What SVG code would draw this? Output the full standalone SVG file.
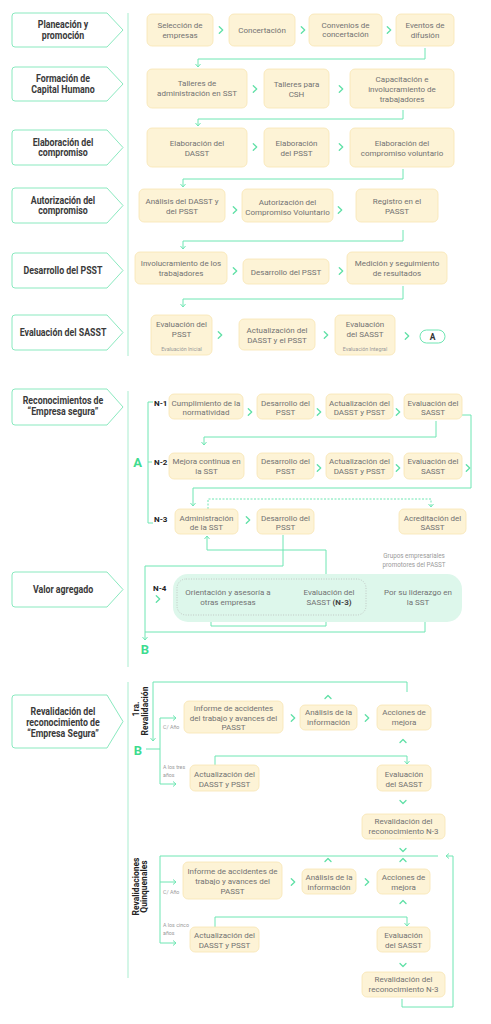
<svg xmlns="http://www.w3.org/2000/svg" width="491" height="1024" viewBox="0 0 491 1024">
<defs>
<style>
.lb{fill:#fff;stroke:#8ae9bf;stroke-width:1}
.lt{font-family:Roboto,"Liberation Sans",sans-serif;font-weight:700;font-size:11px;fill:#3a3a3a;text-anchor:middle}
.bx{fill:#fdf3d6;stroke:#f8e5b2;stroke-width:0.8}
.bt{font-family:Roboto,"Liberation Sans",sans-serif;font-size:8px;fill:#727272;text-anchor:middle}
.sm{font-family:Roboto,"Liberation Sans",sans-serif;font-size:5.3px;fill:#9a9a9a}
.smc{font-family:Roboto,"Liberation Sans",sans-serif;font-size:5.3px;fill:#9a9a9a;text-anchor:middle}
.gp{font-family:Roboto,"Liberation Sans",sans-serif;font-size:6.3px;fill:#9a9a9a;text-anchor:middle}
.ch{fill:none;stroke:#5fe0a6;stroke-width:1.3;stroke-linecap:round;stroke-linejoin:round}
.cn{fill:none;stroke:#6fe6b3;stroke-width:1}
.dv{fill:none;stroke:#c6f4df;stroke-width:1.5}
.nl{font-family:Roboto,"Liberation Sans",sans-serif;font-weight:700;font-size:8px;fill:#222}
.ab{font-family:Roboto,"Liberation Sans",sans-serif;font-weight:700;font-size:13px;fill:#3fdc90;text-anchor:middle}
.rt{font-family:Roboto,"Liberation Sans",sans-serif;font-weight:700;font-size:8.5px;fill:#222;text-anchor:middle}
</style>
<marker id="ah" viewBox="0 0 6 6" refX="4.5" refY="3" markerWidth="6" markerHeight="6" markerUnits="userSpaceOnUse" orient="auto"><path d="M1.5,0.5 L4.5,3 L1.5,5.5" fill="none" stroke="#6fe6b3" stroke-width="1"/></marker>
</defs>
<rect width="491" height="1024" fill="#fff"/>

<g id="dividers">
<path class="dv" d="M128,13 V356 M128,391 V667 M128,682 V978"/>
</g>

<g id="labels">
<g id="lab-planeacion"><path class="lb" d="M15,13 H107 L123,30 L107,47 H15 Q12,47 12,44 V16 Q12,13 15,13 Z"/><text class="lt" transform="matrix(0.8 0 0 1 12.6 0)"><tspan x="63" y="28.5">Planeación y</tspan><tspan x="63" y="39">promoción</tspan></text></g>
<g id="lab-formacion"><path class="lb" d="M15,67 H107 L123,84 L107,101 H15 Q12,101 12,98 V70 Q12,67 15,67 Z"/><text class="lt" transform="matrix(0.8 0 0 1 12.6 0)"><tspan x="63" y="82.5">Formación de</tspan><tspan x="63" y="93">Capital Humano</tspan></text></g>
<g id="lab-elaboracion"><path class="lb" d="M15,130 H107 L123,147.5 L107,165 H15 Q12,165 12,162 V133 Q12,130 15,130 Z"/><text class="lt" transform="matrix(0.8 0 0 1 12.6 0)"><tspan x="63" y="146">Elaboración del</tspan><tspan x="63" y="156.5">compromiso</tspan></text></g>
<g id="lab-autorizacion"><path class="lb" d="M15,188 H107 L123,205.5 L107,223 H15 Q12,223 12,220 V191 Q12,188 15,188 Z"/><text class="lt" transform="matrix(0.8 0 0 1 12.6 0)"><tspan x="63" y="204">Autorización del</tspan><tspan x="63" y="214.5">compromiso</tspan></text></g>
<g id="lab-desarrollo"><path class="lb" d="M15,253 H107 L123,270.5 L107,288 H15 Q12,288 12,285 V256 Q12,253 15,253 Z"/><text class="lt" transform="matrix(0.8 0 0 1 12.6 0)" x="63" y="274.5">Desarrollo del PSST</text></g>
<g id="lab-evaluacion"><path class="lb" d="M15,315 H107 L123,332.5 L107,350 H15 Q12,350 12,347 V318 Q12,315 15,315 Z"/><text class="lt" transform="matrix(0.8 0 0 1 12.6 0)" x="63" y="336.5">Evaluación del SASST</text></g>
<g id="lab-reconocimientos"><path class="lb" d="M15,389 H107 L123,407 L107,425 H15 Q12,425 12,422 V392 Q12,389 15,389 Z"/><text class="lt" transform="matrix(0.8 0 0 1 12.6 0)"><tspan x="63" y="404.5">Reconocimientos de</tspan><tspan x="63" y="415.5">“Empresa segura”</tspan></text></g>
<g id="lab-valor"><path class="lb" d="M15,572 H107 L123,589.5 L107,607 H15 Q12,607 12,604 V575 Q12,572 15,572 Z"/><text class="lt" transform="matrix(0.8 0 0 1 12.6 0)" x="63" y="593.5">Valor agregado</text></g>
<g id="lab-revalidacion"><path class="lb" d="M15,695 H107 L123,721.5 L107,748 H15 Q12,748 12,745 V698 Q12,695 15,695 Z"/><text class="lt" transform="matrix(0.8 0 0 1 12.6 0)"><tspan x="63" y="715">Revalidación del</tspan><tspan x="63" y="726">reconocimiento de</tspan><tspan x="63" y="737">“Empresa Segura”</tspan></text></g>
</g>

<g id="connectors">
<path class="cn" marker-end="url(#ah)" d="M425,48 V59 H198 V67"/>
<path class="cn" marker-end="url(#ah)" d="M403,110 V119 H198 V126"/>
<path class="cn" marker-end="url(#ah)" d="M403,169 V179 H183 V187"/>
<path class="cn" marker-end="url(#ah)" d="M403,230 V241 H183 V249"/>
<path class="cn" marker-end="url(#ah)" d="M403,286 V299 H183 V307"/>
<path class="cn" stroke="#a6efcd" d="M153,402 H148 V523 H153 M148,462 H152"/>
<path class="cn" marker-end="url(#ah)" d="M436,421 V437 H204 V445"/>
<path class="cn" marker-end="url(#ah)" d="M462,415 H471 V488 H193 V506"/>
<path class="cn" stroke-dasharray="2,1.5" marker-end="url(#ah)" d="M208,509 V499 H431 V507"/>
<path class="cn" marker-end="url(#ah)" d="M283,535 V566 H145 V640"/>
<path class="cn" d="M425,622 V632 H145"/>
<path class="cn" marker-end="url(#ah)" d="M326,575 V550 H207 V536"/>
<path class="cn" marker-end="url(#ah)" d="M326,615 V626 H211 V616"/>
<path class="cn" marker-end="url(#ah)" d="M407,692 V682 H153 V741"/>
<path class="cn" d="M146,749 H160"/>
<path class="cn" marker-end="url(#ah)" d="M160,749 V718 H176"/>
<path class="cn" marker-end="url(#ah)" d="M160,749 V784 H176"/>
<path class="cn" marker-end="url(#ah)" d="M215,765 V756 H407 V764"/>
<path class="cn" marker-end="url(#ah)" d="M402,999 V1007 H453 V856 H446"/>
<path class="cn" d="M438,856 H160 V943"/>
<path class="cn" marker-end="url(#ah)" d="M160,882 H176"/>
<path class="cn" marker-end="url(#ah)" d="M160,943 H176"/>
<path class="cn" marker-end="url(#ah)" d="M215,927 V917 H407 V926"/>
<path class="ch" d="M219.3,26.7 L222.7,30 L219.3,33.3 M301.3,26.7 L304.7,30 L301.3,33.3 M387.3,26.7 L390.7,30 L387.3,33.3 M253.3,85.7 L256.7,89 L253.3,92.3 M339.3,85.7 L342.7,89 L339.3,92.3 M253.3,143.7 L256.7,147 L253.3,150.3 M339.3,143.7 L342.7,147 L339.3,150.3 M233.3,206.7 L236.7,210 L233.3,213.3 M338.3,206.7 L341.7,210 L338.3,213.3 M233.3,267.7 L236.7,271 L233.3,274.3 M339.3,267.7 L342.7,271 L339.3,274.3 M218.3,331.7 L221.7,335 L218.3,338.3 M324.3,331.7 L327.7,335 L324.3,338.3 M405.3,332.7 L408.7,336 L405.3,339.3"/>
<path class="ch" d="M248.3,408.7 L251.7,412 L248.3,415.3 M317.3,408.7 L320.7,412 L317.3,415.3 M396.3,408.7 L399.7,412 L396.3,415.3 M317.3,464.7 L320.7,468 L317.3,471.3 M396.3,464.7 L399.7,468 L396.3,471.3 M466.3,464.7 L469.7,468 L466.3,471.3 M246.3,516.7 L249.7,520 L246.3,523.3 M284.3,595.7 L287.7,599 L284.3,602.3 M372.3,595.7 L375.7,599 L372.3,602.3 M156.3,595.7 L159.7,599 L156.3,602.3"/>
<path class="ch" d="M291.3,714.7 L294.7,718 L291.3,721.3 M365.3,714.7 L368.7,718 L365.3,721.3 M291.3,878.7 L294.7,882 L291.3,885.3 M365.3,878.7 L368.7,882 L365.3,885.3"/>
<path class="ch" d="M325,698.5 L328,695.5 L331,698.5 M400,742.5 L403,739.5 L406,742.5 M325,861.5 L328,858.5 L331,861.5 M400,861.5 L403,858.5 L406,861.5 M400,903.5 L403,900.5 L406,903.5"/>
<path class="ch" d="M400,800.5 L403,803.5 L406,800.5 M400,848.5 L403,851.5 L406,848.5 M400,963.5 L403,966.5 L406,963.5"/>
</g>

<g id="s1-row1">
<g id="n-seleccion"><rect class="bx" x="147" y="14" width="66" height="32" rx="5"/><text class="bt"><tspan x="180" y="28">Selección de</tspan><tspan x="180" y="38">empresas</tspan></text></g>
<g id="n-concertacion"><rect class="bx" x="229" y="14" width="66" height="32" rx="5"/><text class="bt" x="262" y="33">Concertación</text></g>
<g id="n-convenios"><rect class="bx" x="309" y="14" width="73" height="32" rx="5"/><text class="bt"><tspan x="345.5" y="27.5">Convenios de</tspan><tspan x="345.5" y="37">concertación</tspan></text></g>
<g id="n-eventos"><rect class="bx" x="396" y="14" width="58" height="32" rx="5"/><text class="bt"><tspan x="425" y="28">Eventos de</tspan><tspan x="425" y="38">difusión</tspan></text></g>
</g>
<g id="s1-row2">
<g id="n-talleres-adm"><rect class="bx" x="147" y="69" width="100" height="39" rx="5"/><text class="bt"><tspan x="197" y="86">Talleres de</tspan><tspan x="197" y="95.5">administración en SST</tspan></text></g>
<g id="n-talleres-csh"><rect class="bx" x="264" y="69" width="65" height="39" rx="5"/><text class="bt"><tspan x="296.5" y="87">Talleres para</tspan><tspan x="296.5" y="97">CSH</tspan></text></g>
<g id="n-capacitacion"><rect class="bx" x="350" y="69" width="104" height="39" rx="5"/><text class="bt"><tspan x="402" y="82">Capacitación e</tspan><tspan x="402" y="92">involucramiento de</tspan><tspan x="402" y="101.5">trabajadores</tspan></text></g>
</g>
<g id="s1-row3">
<g id="n-elab-dasst"><rect class="bx" x="147" y="128" width="100" height="39" rx="5"/><text class="bt"><tspan x="197" y="145.5">Elaboración del</tspan><tspan x="197" y="155.5">DASST</tspan></text></g>
<g id="n-elab-psst"><rect class="bx" x="264" y="128" width="65" height="39" rx="5"/><text class="bt"><tspan x="296.5" y="145.5">Elaboración</tspan><tspan x="296.5" y="155.5">del PSST</tspan></text></g>
<g id="n-elab-comp"><rect class="bx" x="350" y="128" width="104" height="39" rx="5"/><text class="bt"><tspan x="402" y="145.5">Elaboración del</tspan><tspan x="402" y="155.5">compromiso voluntario</tspan></text></g>
</g>
<g id="s1-row4">
<g id="n-analisis"><rect class="bx" x="139" y="189" width="86" height="33" rx="5"/><text class="bt"><tspan x="182" y="204">Análisis del DASST y</tspan><tspan x="182" y="214">del PSST</tspan></text></g>
<g id="n-autorizacion"><rect class="bx" x="242" y="189" width="91" height="33" rx="5"/><text class="bt"><tspan x="287.5" y="205">Autorización del</tspan><tspan x="287.5" y="214.5">Compromiso Voluntario</tspan></text></g>
<g id="n-registro"><rect class="bx" x="356" y="189" width="82" height="33" rx="5"/><text class="bt"><tspan x="397" y="204">Registro en el</tspan><tspan x="397" y="213.5">PASST</tspan></text></g>
</g>
<g id="s1-row5">
<g id="n-involucramiento"><rect class="bx" x="135" y="252" width="92" height="32" rx="5"/><text class="bt"><tspan x="181" y="265.5">Involucramiento de los</tspan><tspan x="181" y="275.5">trabajadores</tspan></text></g>
<g id="n-desarrollo"><rect class="bx" x="243" y="259" width="86" height="25" rx="5"/><text class="bt" x="286" y="274.5">Desarrollo del PSST</text></g>
<g id="n-medicion"><rect class="bx" x="347" y="252" width="100" height="32" rx="5"/><text class="bt"><tspan x="397" y="265.5">Medición y seguimiento</tspan><tspan x="397" y="275.5">de resultados</tspan></text></g>
</g>
<g id="s1-row6">
<g id="n-eval-psst"><rect class="bx" x="151" y="315" width="61" height="40" rx="5"/><text class="bt"><tspan x="181.5" y="327">Evaluación del</tspan><tspan x="181.5" y="337">PSST</tspan></text><text class="smc" x="181.5" y="350.5">Evaluación Inicial</text></g>
<g id="n-actualizacion"><rect class="bx" x="239" y="319" width="76" height="31" rx="5"/><text class="bt"><tspan x="277" y="333">Actualización del</tspan><tspan x="277" y="343">DASST y el PSST</tspan></text></g>
<g id="n-eval-sasst"><rect class="bx" x="335" y="315" width="60" height="40" rx="5"/><text class="bt"><tspan x="365" y="327">Evaluación</tspan><tspan x="365" y="337">del SASST</tspan></text><text class="smc" x="365" y="350.5">Evaluación Integral</text></g>
<g id="n-A"><rect x="420" y="330" width="25" height="13" rx="6.5" fill="#fff" stroke="#6fe6b3" stroke-width="1"/><text x="432.5" y="339.8" font-family="Roboto, sans-serif" font-weight="700" font-size="8.5" fill="#333" text-anchor="middle">A</text></g>
</g>

<g id="s2">
<text class="ab" x="137.5" y="466.5">A</text>
<text class="nl" x="154" y="405.5">N-1</text>
<text class="nl" x="154" y="465">N-2</text>
<text class="nl" x="154" y="522">N-3</text>
<text class="nl" x="153" y="591">N-4</text>
<g id="n1-cumplimiento"><rect class="bx" x="169" y="394" width="74" height="25" rx="5"/><text class="bt"><tspan x="206" y="405.5">Cumplimiento de la</tspan><tspan x="206" y="415">normatividad</tspan></text></g>
<g id="n1-desarrollo"><rect class="bx" x="257" y="394" width="57" height="25" rx="5"/><text class="bt"><tspan x="285.5" y="405.5">Desarrollo del</tspan><tspan x="285.5" y="415">PSST</tspan></text></g>
<g id="n1-actualizacion"><rect class="bx" x="326" y="394" width="67" height="25" rx="5"/><text class="bt"><tspan x="359.5" y="405.5">Actualización del</tspan><tspan x="359.5" y="415">DASST y PSST</tspan></text></g>
<g id="n1-evaluacion"><rect class="bx" x="404" y="394" width="58" height="25" rx="5"/><text class="bt"><tspan x="433" y="405.5">Evaluación del</tspan><tspan x="433" y="415">SASST</tspan></text></g>
<g id="n2-mejora"><rect class="bx" x="169" y="453" width="75" height="26" rx="5"/><text class="bt"><tspan x="206.5" y="464">Mejora continua en</tspan><tspan x="206.5" y="473.5">la SST</tspan></text></g>
<g id="n2-desarrollo"><rect class="bx" x="257" y="453" width="57" height="26" rx="5"/><text class="bt"><tspan x="285.5" y="464">Desarrollo del</tspan><tspan x="285.5" y="473.5">PSST</tspan></text></g>
<g id="n2-actualizacion"><rect class="bx" x="326" y="453" width="67" height="26" rx="5"/><text class="bt"><tspan x="359.5" y="464">Actualización del</tspan><tspan x="359.5" y="473.5">DASST y PSST</tspan></text></g>
<g id="n2-evaluacion"><rect class="bx" x="404" y="453" width="58" height="26" rx="5"/><text class="bt"><tspan x="433" y="464">Evaluación del</tspan><tspan x="433" y="473.5">SASST</tspan></text></g>
<g id="n3-administracion"><rect class="bx" x="175" y="509" width="63" height="25" rx="5"/><text class="bt"><tspan x="206.5" y="520.5">Administración</tspan><tspan x="206.5" y="530">de la SST</tspan></text></g>
<g id="n3-desarrollo"><rect class="bx" x="257" y="509" width="57" height="25" rx="5"/><text class="bt"><tspan x="285.5" y="520.5">Desarrollo del</tspan><tspan x="285.5" y="530">PSST</tspan></text></g>
<g id="n3-acreditacion"><rect class="bx" x="399" y="509" width="67" height="25" rx="5"/><text class="bt"><tspan x="432.5" y="520.5">Acreditación del</tspan><tspan x="432.5" y="530">SASST</tspan></text></g>
<g id="n4-panel">
<rect x="173" y="574" width="289" height="48" rx="15" fill="#ddf7eb"/>
<rect x="177" y="579" width="189" height="36" rx="9" fill="none" stroke="#b5b5b5" stroke-width="0.7" stroke-dasharray="1,1.5"/>
<text class="gp"><tspan x="414" y="558">Grupos empresariales</tspan><tspan x="414" y="566.5">promotores del PASST</tspan></text>
</g>
<g id="n4-orientacion"><text class="bt"><tspan x="228" y="595">Orientación y asesoría a</tspan><tspan x="228" y="605">otras empresas</tspan></text></g>
<g id="n4-evaluacion"><text class="bt"><tspan x="329" y="595">Evaluación del</tspan><tspan x="329" y="605">SASST <tspan font-weight="700" fill="#444">(N-3)</tspan></tspan></text></g>
<g id="n4-liderazgo"><text class="bt"><tspan x="418" y="595">Por su liderazgo en</tspan><tspan x="418" y="605">la SST</tspan></text></g>
<text class="ab" x="145" y="653.5">B</text>
</g>

<g id="s3">
<text class="rt" transform="translate(138.5,709) rotate(-90)">1ra.</text>
<text class="rt" transform="translate(148,711) rotate(-90)">Revalidación</text>
<text class="rt" transform="translate(138.5,886.5) rotate(-90)">Revalidaciones</text>
<text class="rt" transform="translate(147,886.5) rotate(-90)">Quinquenales</text>
<text class="ab" x="138" y="754.5">B</text>
<text class="sm" x="163" y="729">C/ Año</text>
<text class="sm"><tspan x="163" y="769">A los tres</tspan><tspan x="163" y="777">años</tspan></text>
<text class="sm" x="163" y="894">C/ Año</text>
<text class="sm"><tspan x="163" y="927">A los cinco</tspan><tspan x="163" y="935">años</tspan></text>
<g id="r1-informe"><rect class="bx" x="184" y="701" width="99" height="32" rx="5"/><text class="bt"><tspan x="233.5" y="710.5">Informe de accidentes</tspan><tspan x="233.5" y="720.5">del trabajo y avances del</tspan><tspan x="233.5" y="730">PASST</tspan></text></g>
<g id="r1-analisis"><rect class="bx" x="300" y="705" width="57" height="25" rx="5"/><text class="bt"><tspan x="328.5" y="715">Análisis de la</tspan><tspan x="328.5" y="725">información</tspan></text></g>
<g id="r1-acciones"><rect class="bx" x="377" y="705" width="54" height="25" rx="5"/><text class="bt"><tspan x="404" y="715">Acciones de</tspan><tspan x="404" y="725">mejora</tspan></text></g>
<g id="r1-actualizacion"><rect class="bx" x="190" y="765" width="69" height="26" rx="5"/><text class="bt"><tspan x="224.5" y="777">Actualización del</tspan><tspan x="224.5" y="787">DASST y PSST</tspan></text></g>
<g id="r1-evaluacion"><rect class="bx" x="377" y="765" width="54" height="26" rx="5"/><text class="bt"><tspan x="404" y="777">Evaluación</tspan><tspan x="404" y="787">del SASST</tspan></text></g>
<g id="r1-revalidacion"><rect class="bx" x="362" y="814" width="83" height="25" rx="5"/><text class="bt"><tspan x="403.5" y="824">Revalidación del</tspan><tspan x="403.5" y="834">reconocimiento N-3</tspan></text></g>
<g id="q-informe"><rect class="bx" x="183" y="862" width="99" height="37" rx="5"/><text class="bt"><tspan x="232.5" y="874">Informe de accidentes de</tspan><tspan x="232.5" y="884">trabajo y avances del</tspan><tspan x="232.5" y="894">PASST</tspan></text></g>
<g id="q-analisis"><rect class="bx" x="302" y="869" width="54" height="25" rx="5"/><text class="bt"><tspan x="329" y="879.5">Análisis de la</tspan><tspan x="329" y="889.5">información</tspan></text></g>
<g id="q-acciones"><rect class="bx" x="377" y="869" width="53" height="25" rx="5"/><text class="bt"><tspan x="403.5" y="879.5">Acciones de</tspan><tspan x="403.5" y="889.5">mejora</tspan></text></g>
<g id="q-actualizacion"><rect class="bx" x="190" y="927" width="69" height="25" rx="5"/><text class="bt"><tspan x="224.5" y="938">Actualización del</tspan><tspan x="224.5" y="948">DASST y PSST</tspan></text></g>
<g id="q-evaluacion"><rect class="bx" x="377" y="927" width="53" height="25" rx="5"/><text class="bt"><tspan x="403.5" y="938">Evaluación</tspan><tspan x="403.5" y="948">del SASST</tspan></text></g>
<g id="q-revalidacion"><rect class="bx" x="362" y="972" width="83" height="25" rx="5"/><text class="bt"><tspan x="403.5" y="982">Revalidación del</tspan><tspan x="403.5" y="992">reconocimiento N-3</tspan></text></g>
</g>
</svg>
